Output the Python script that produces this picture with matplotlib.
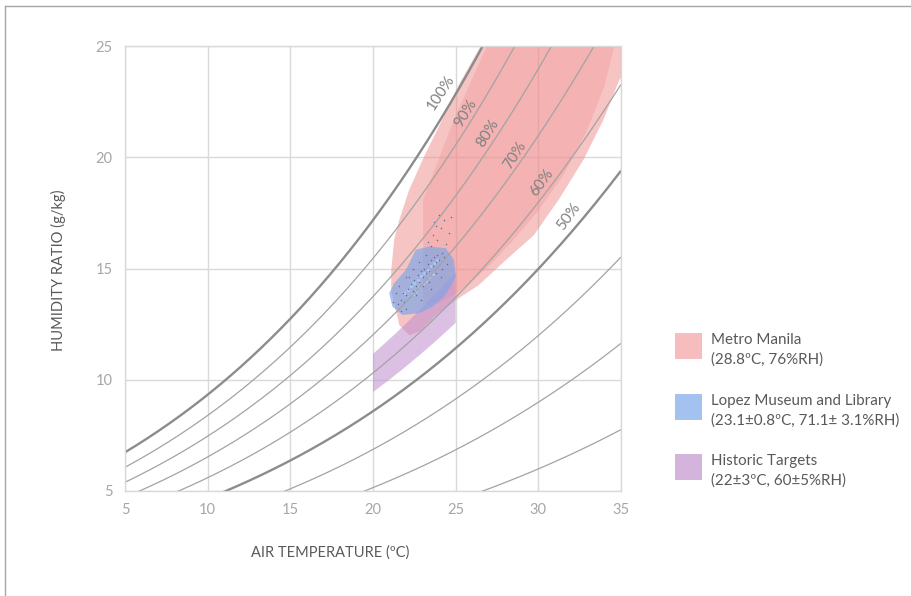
import numpy as np
import matplotlib
matplotlib.use("Agg")
import matplotlib.pyplot as plt
from matplotlib.patches import Polygon, Rectangle
from matplotlib.lines import Line2D

plt.rcParams['font.family'] = ['Lato', 'DejaVu Sans']

# ---------------- data ----------------
# saturation (100% RH) humidity ratio, g/kg
sat_temp = [5, 10, 15, 20, 25, 30, 35]
sat_w = [6.78, 9.23, 12.76, 17.2, 22.9, 30.0, 38.7]

rh_levels = [20, 30, 40, 50, 60, 70, 80, 90, 100]
rh_bold = [50, 100]

rh_label_levels = [100, 90, 80, 70, 60, 50]
rh_label_t = [24.1, 25.6, 26.95, 28.6, 30.2, 31.84]
rh_label_w = [22.9, 21.97, 21.07, 20.07, 18.84, 17.34]
rh_label_rot = [57, 58, 58, 57, 54, 54]

# Metro Manila envelope (outer, lighter) and core (inner, darker)
manila_outer_t = [26.51, 35.0, 35.0, 34.86, 33.95, 32.74, 31.24, 29.73, 27.92, 26.41,
                  25.02, 23.8, 22.8, 22.19, 21.59, 21.1, 21.1, 21.28, 21.59, 22.19,
                  23.09, 24.1, 25.2]
manila_outer_w = [25.0, 25.0, 23.6, 23.4, 21.7, 19.9, 18.1, 16.5, 15.3, 14.26,
                  13.58, 12.9, 12.16, 12.0, 12.46, 14.04, 14.9, 16.29, 17.19, 18.54,
                  20.03, 21.56, 23.27]
manila_inner_t = [26.89, 34.6, 34.0, 33.0, 31.6, 30.0, 28.4, 27.0, 25.81, 24.9,
                  24.0, 23.03, 23.03, 24.9]
manila_inner_w = [25.0, 25.0, 23.2, 21.3, 19.3, 17.6, 16.2, 15.1, 14.3, 13.81,
                  13.45, 13.36, 18.09, 21.7]

# Lopez Museum and Library measured cloud outline
lopez_t = [22.59, 23.4, 24.4, 24.9, 25.0, 24.7, 24.3, 23.6, 22.79, 21.79, 21.18,
           20.98, 21.28, 21.99, 22.39]
lopez_w = [15.84, 15.99, 15.91, 15.39, 14.63, 14.18, 13.73, 13.28, 12.99, 12.91,
           13.28, 13.89, 14.34, 14.94, 15.54]

# individual readings (dots)
lopez_pts_t = [21.5, 21.7, 21.9, 21.8, 22.0, 22.1, 22.2, 22.3, 22.4, 22.5, 22.6, 22.7,
               22.8, 22.9, 23.0, 23.1, 23.2, 23.3, 23.4, 23.5, 23.6, 23.7, 23.8, 23.9,
               24.0, 24.2, 24.3, 22.2, 22.6, 23.0, 23.4, 23.8, 24.2, 21.6, 22.0, 22.4,
               22.8, 23.2, 21.2, 21.4, 22.9, 23.5, 24.1, 24.5, 22.0, 21.7,
               23.3, 23.6, 23.9, 24.1, 23.8, 24.3, 24.0, 24.4, 23.5, 24.6, 24.7,
               23.7]
lopez_pts_w = [13.4, 13.6, 13.5, 13.9, 13.8, 14.1, 13.7, 14.3, 14.0, 14.5, 14.2, 14.7,
               14.4, 14.9, 14.6, 15.0, 14.8, 15.2, 14.9, 15.4, 15.1, 15.5, 15.3, 15.6,
               15.4, 15.7, 15.5, 14.6, 13.8, 14.2, 14.4, 14.8, 15.0, 14.2, 14.6, 15.0,
               15.3, 15.6, 13.5, 13.9, 13.6, 14.1, 14.6, 15.2, 13.2, 13.1,
               16.2, 16.5, 16.3, 16.8, 16.9, 17.2, 17.4, 16.1, 16.0, 16.6, 17.3,
               17.1]
# densest readings (light streaks)
lopez_dense_t = [21.9, 22.1, 22.3, 22.5, 22.7, 22.9, 23.1, 23.3, 23.5, 23.7, 23.9,
                 22.2, 22.4, 22.6, 22.8, 23.0, 23.2, 23.4, 23.6]
lopez_dense_w = [13.9, 14.05, 14.2, 14.35, 14.5, 14.65, 14.8, 14.95, 15.1, 15.25, 15.4,
                 13.7, 13.85, 14.0, 14.15, 14.3, 14.45, 14.6, 14.75]

# Historic targets
hist_t_range = [20, 25]
hist_rh_range = [55, 65]

legend_title = ["Metro Manila", "Lopez Museum and Library", "Historic Targets"]
legend_sub = ["(28.8ºC, 76%RH)", "(23.1±0.8ºC, 71.1± 3.1%RH)", "(22±3ºC, 60±5%RH)"]

x_ticks = [5, 10, 15, 20, 25, 30, 35]
y_ticks = [5, 10, 15, 20, 25]

# ---------------- figure ----------------
W_PX, H_PX = 911, 596
fig = plt.figure(figsize=(W_PX / 100, H_PX / 100), dpi=100)
ax = fig.add_axes([125 / W_PX, 1 - 491 / H_PX, (621 - 125) / W_PX, (491 - 46) / H_PX])
ax.set_xlim(5, 35)
ax.set_ylim(5, 25)

grid_c = '#d9d9d9'
ax.set_xticks(x_ticks)
ax.set_yticks(y_ticks)
ax.grid(True, color=grid_c, lw=1.0, zorder=0)
for s in ax.spines.values():
    s.set_color(grid_c)
    s.set_linewidth(1.0)
ax.tick_params(length=0, colors='#a6a6a6', labelsize=10.5, pad=9)
ax.set_axisbelow(True)

coef = np.polyfit(sat_temp, np.log(sat_w), 2)


def w_sat(t):
    return np.exp(np.polyval(coef, t))


# fills
pink = '#f08a8a'
ax.add_patch(Polygon(np.column_stack([manila_outer_t, manila_outer_w]), closed=True,
                     fc=pink, ec='none', alpha=0.5, zorder=1))
ax.add_patch(Polygon(np.column_stack([manila_inner_t, manila_inner_w]), closed=True,
                     fc=pink, ec='none', alpha=0.3, zorder=1.1))

th = np.linspace(hist_t_range[0], hist_t_range[1], 60)
hist_top = hist_rh_range[1] / 100 * w_sat(th)
hist_bot = hist_rh_range[0] / 100 * w_sat(th)
ax.add_patch(Polygon(np.column_stack([np.r_[th, th[::-1]], np.r_[hist_top, hist_bot[::-1]]]),
                     closed=True, fc='#bf8dcf', ec='none', alpha=0.55, zorder=1.2))

ax.add_patch(Polygon(np.column_stack([lopez_t, lopez_w]), closed=True,
                     fc='#7da5e6', ec='none', alpha=0.68, zorder=1.3))
ax.scatter(lopez_dense_t, lopez_dense_w, s=5, c='#a9d3f5', lw=0, alpha=0.8, zorder=1.35)
ax.scatter(lopez_pts_t, lopez_pts_w, s=1.2, c='#5a6f9a', lw=0, zorder=1.4)

# RH curves
tt = np.linspace(5, 35, 400)
for rh in rh_levels:
    bold = rh in rh_bold
    ax.plot(tt, rh / 100 * w_sat(tt), color='#8c8c8c' if bold else '#a3a3a3',
            lw=1.7 if bold else 0.9, zorder=2, solid_capstyle='butt')

# curve labels
for rh, t0, w0, rot in zip(rh_label_levels, rh_label_t, rh_label_w, rh_label_rot):
    ax.text(t0, w0, f"{rh}%", rotation=rot, rotation_mode='anchor', ha='center',
            va='center', color='#808080', fontsize=11, zorder=3)

ax.set_xlabel("AIR TEMPERATURE (ºC)", color='#595959', fontsize=10.5, labelpad=16)
ax.set_ylabel("HUMIDITY RATIO (g/kg)", color='#595959', fontsize=10.5, labelpad=18)
ax.xaxis.set_label_coords((330 - 125) / (621 - 125), -(545 - 491) / (491 - 46))
ax.yaxis.set_label_coords(-(125 - 66) / (621 - 125), 1 - (270 - 46) / (491 - 46))

# legend (manual)
leg_colors = ['#f7bcbe', '#a4c2f0', '#d4b4dc']
sq_top = [333, 394, 454]
for c, top, t1, t2 in zip(leg_colors, sq_top, legend_title, legend_sub):
    fig.add_artist(Rectangle((675 / W_PX, 1 - (top + 25.5) / H_PX), 26.5 / W_PX, 25.5 / H_PX,
                             transform=fig.transFigure, fc=c, ec='none'))
    fig.text(711 / W_PX, 1 - (top + 7) / H_PX, t1, ha='left', va='center',
             color='#595959', fontsize=10.9)
    fig.text(711 / W_PX, 1 - (top + 27) / H_PX, t2, ha='left', va='center',
             color='#595959', fontsize=10.9)

# outer frame (top and left edges visible)
fig.add_artist(Line2D([5 / W_PX, 1], [1 - 6 / H_PX, 1 - 6 / H_PX], transform=fig.transFigure,
                      color='#a6a6a6', lw=1.0))
fig.add_artist(Line2D([5 / W_PX, 5 / W_PX], [0, 1 - 6 / H_PX], transform=fig.transFigure,
                      color='#a6a6a6', lw=1.0))

fig.savefig("out.png", dpi=100)
